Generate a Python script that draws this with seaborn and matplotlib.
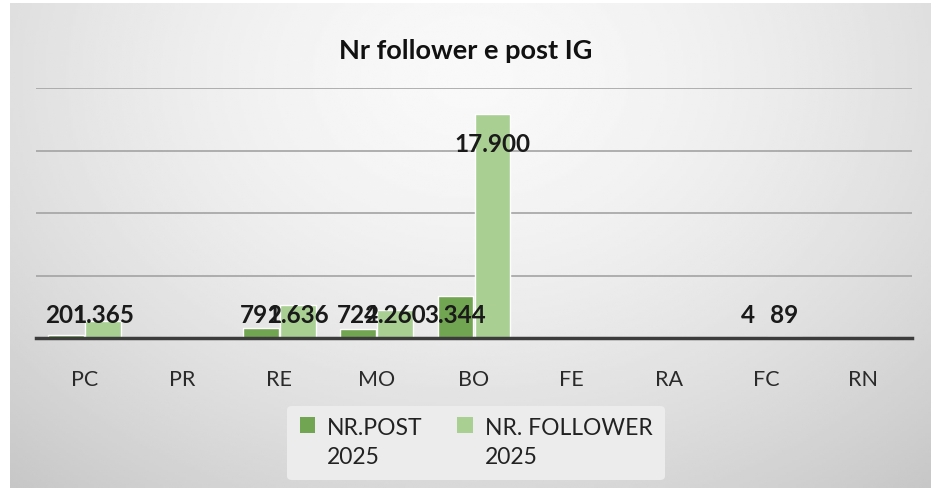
import numpy as np
import pandas as pd
import matplotlib
matplotlib.use("Agg")
import matplotlib.pyplot as plt
import seaborn as sns
from matplotlib.patches import Patch, Rectangle
from matplotlib.legend_handler import HandlerPatch

categories = ["PC", "PR", "RE", "MO", "BO", "FE", "RA", "FC", "RN"]
post_2025 = [201, 0, 791, 724, 3344, 0, 0, 4, 0]
follower_2025 = [1365, 0, 2636, 2260, 17900, 0, 0, 89, 0]
post_labels = ["201", "", "791", "724", "3.344", "", "", "4", ""]
follower_labels = ["1.365", "", "2.636", "2.260", "17.900", "", "", "89", ""]
series_names = ["NR.POST\n2025", "NR. FOLLOWER\n2025"]
title = "Nr follower e post IG"
yticks = [0, 5000, 10000, 15000, 20000]

dark_green = "#72a552"
light_green = "#a9cf93"

df = pd.DataFrame({
    "cat": categories * 2,
    "value": post_2025 + follower_2025,
    "series": [series_names[0]] * len(categories) + [series_names[1]] * len(categories),
    "label": post_labels + follower_labels,
})

sns.set_theme(style="white")
plt.rcParams["font.family"] = ["Lato", "DejaVu Sans"]

W, H = 931, 495
fig = plt.figure(figsize=(W / 100, H / 100), dpi=100)
fig.patch.set_facecolor("white")

# gradient background panel
bg = fig.add_axes([10 / W, 7 / H, 921 / W, 485 / H], zorder=-5)
yy, xx = np.mgrid[0:1:200j, 0:1:400j]
r = np.sqrt(((xx - 0.5) / 0.75) ** 2 + ((yy - 0.15) / 1.1) ** 2)
arr = 0.975 - 0.19 * r ** 1.6
bg.imshow(arr, cmap="gray", vmin=0, vmax=1, aspect="auto", extent=[0, 1, 1, 0])
bg.set_axis_off()

ax = fig.add_axes([36 / W, (H - 338) / H, (912 - 36) / W, (338 - 88) / H])
ax.set_facecolor("none")

sns.barplot(data=df, x="cat", y="value", hue="series", order=categories,
            hue_order=series_names, palette=[dark_green, light_green],
            width=0.76, gap=0.03, ax=ax, legend=False, saturation=1)

ax.set_ylim(0, 20000)
ax.set_xlim(-0.5, len(categories) - 0.5)
ax.set_yticks(yticks)
ax.set_yticklabels([])
ax.tick_params(axis="y", length=0)
ax.grid(axis="y", color="#a3a3a3", linewidth=1.2)
ax.set_axisbelow(True)
for s in ["top", "right", "left"]:
    ax.spines[s].set_visible(False)
ax.spines["bottom"].set_color("#3c3c3c")
ax.spines["bottom"].set_linewidth(2.5)
ax.spines["bottom"].set_zorder(5)
ax.set_xlabel("")
ax.set_ylabel("")
ax.tick_params(axis="x", length=0, pad=23, labelsize=15.5, labelcolor="#2a2a2a")

# data labels
for container, labels, vals in zip(ax.containers, [post_labels, follower_labels],
                                   [post_2025, follower_2025]):
    for patch, lab, v in zip(container.patches, labels, vals):
        if not lab:
            continue
        xc = patch.get_x() + patch.get_width() / 2
        yv = max(v - 2450, 1800)
        ax.text(xc, yv, lab, ha="center", va="center", fontsize=17.5,
                fontweight="bold", color="#1a1a1a", zorder=6)

fig.text(0.5, 1 - 51 / H, title, ha="center", va="center", fontsize=19.5,
         fontweight="bold", color="#111111")


def top_square(legend, orig_handle, xdescent, ydescent, width, height, fontsize):
    s = fontsize * 0.68
    return Rectangle((-xdescent, -ydescent + fontsize * 0.82), s, s)


handles = [Patch(facecolor=dark_green, edgecolor="none"),
           Patch(facecolor=light_green, edgecolor="none")]
hmap = {h: HandlerPatch(patch_func=top_square) for h in handles}
leg = fig.legend(handles, series_names, loc="center", ncol=2,
                 bbox_to_anchor=(476 / W, 1 - 443 / H), frameon=True,
                 fontsize=16.5, handlelength=0.75, handleheight=0.7,
                 handletextpad=0.45, columnspacing=1.5, borderpad=0.55,
                 handler_map=hmap)
leg.get_frame().set_facecolor("#ececec")
leg.get_frame().set_edgecolor("none")
leg.get_frame().set_alpha(1)
for t in leg.get_texts():
    t.set_color("#222222")
    t.set_linespacing(1.45)

fig.savefig("out.png", dpi=100)
